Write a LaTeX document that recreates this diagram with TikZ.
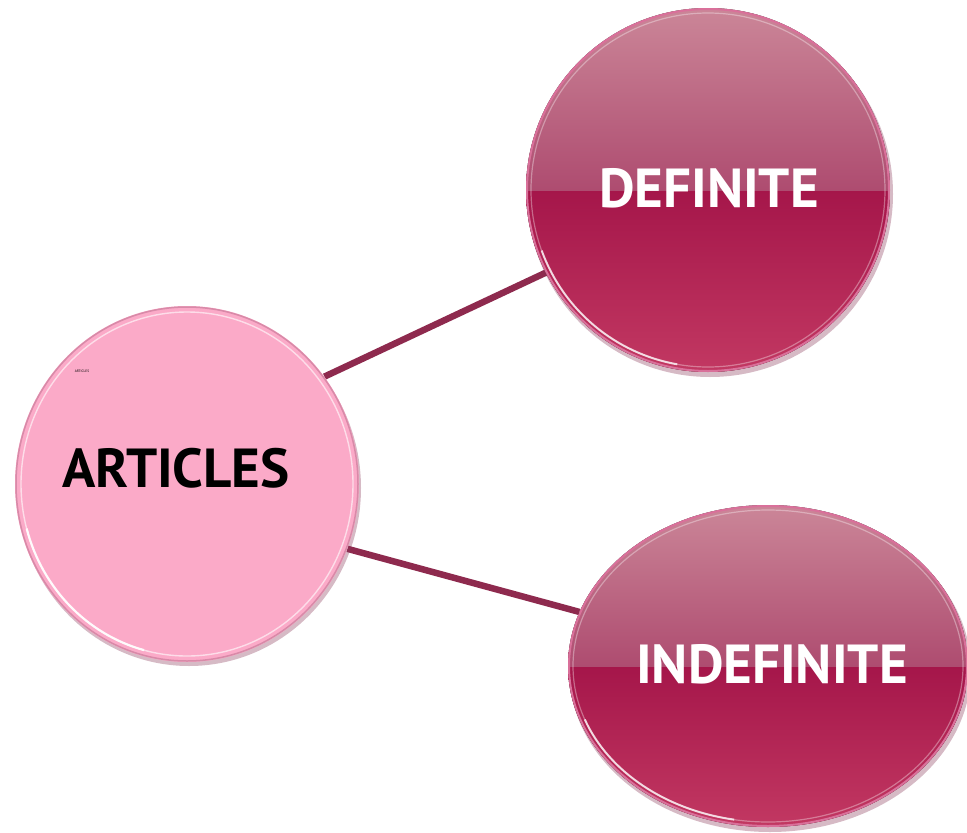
\documentclass[tikz,border=0pt]{standalone}
\usepackage{fontspec}
\setmainfont{PT Sans}
\usetikzlibrary{shapes.geometric,backgrounds}
\definecolor{linkcol}{HTML}{8E2A4E}
\definecolor{pinkfill}{HTML}{FBAAC8}
\definecolor{pinkrim}{HTML}{D88AA8}
\definecolor{shadowcol}{HTML}{8A3A5A}
\definecolor{darkTopA}{HTML}{CB8698}
\definecolor{darkTopB}{HTML}{AE4C70}
\definecolor{darkBotA}{HTML}{A5164A}
\definecolor{darkBotB}{HTML}{C23862}
\definecolor{darkrim}{HTML}{D9709A}
\newcommand\glossball[4]{% center x, center y, rx, ry
  \fill[shadowcol,opacity=0.35] (#1+2,#2+4) ellipse [x radius=#3+1, y radius=#4+1];
  \begin{scope}
    \clip (#1,#2) ellipse [x radius=#3, y radius=#4];
    \fill[top color=darkBotA, bottom color=darkBotB] (#1-#3,#2) rectangle (#1+#3,#2+#4);
    \fill[top color=darkTopA, bottom color=darkTopB] (#1-#3,#2-#4) rectangle (#1+#3,#2);
  \end{scope}
  \draw[darkrim,line width=2pt] (#1,#2) ellipse [x radius=#3-1, y radius=#4-1];
  \draw[white,opacity=0.35,line width=1.2pt] (#1,#2) ellipse [x radius=#3-5, y radius=#4-5];
  \draw[white,opacity=0.75,line width=2pt] (#1,#2) ++(100:#3-5 and #4-5) arc [start angle=100, end angle=160, x radius=#3-5, y radius=#4-5];
}
\tikzset{
  ballnode/.style={ellipse, inner sep=0pt},
  labeltxt/.style={font=\bfseries\fontsize{55}{60}\selectfont},
  link/.style={draw=linkcol, line width=6.5pt}
}
\begin{document}
\begin{tikzpicture}[x=1pt,y=-1pt]
\useasboundingbox (0,0) rectangle (967,833);
% ARTICLES ball
\fill[shadowcol,opacity=0.35] (189,488) ellipse [x radius=172, y radius=178];
\fill[pinkfill] (187,484) ellipse [x radius=172, y radius=178];
\draw[pinkrim,line width=1.5pt] (187,484) ellipse [x radius=171, y radius=177];
\draw[white,opacity=0.6,line width=1.4pt] (187,484) ellipse [x radius=166, y radius=172];
\draw[white,opacity=0.9,line width=2.2pt] (187,484) ++(105:166 and 172) arc [start angle=105, end angle=165, x radius=166, y radius=172];
\node[ballnode, minimum width=344pt, minimum height=356pt] (art) at (187,484) {};
\node[labeltxt, text=black] (arttxt) at (176,468) {ARTICLES};
\node[text=black, inner sep=0pt] (artsmall) at (82,371) {\fontsize{3.5}{4}\selectfont ARTICLES};
% DEFINITE ball
\glossball{708}{190}{182}{182}
\node[ballnode, minimum width=364pt, minimum height=364pt] (def) at (708,190) {};
\node[labeltxt, text=white] (deftxt) at (709,188) {DEFINITE};
% INDEFINITE ball
\glossball{768}{666}{200}{161}
\node[ballnode, minimum width=400pt, minimum height=322pt] (indef) at (768,666) {};
\node[labeltxt, text=white] (indeftxt) at (772,664) {INDEFINITE};
% connectors
\begin{scope}[on background layer]
  \draw[link] (art.38) -- (def.207);
  \draw[link] (art.-22) -- (indef.164);
\end{scope}
\end{tikzpicture}
\end{document}
